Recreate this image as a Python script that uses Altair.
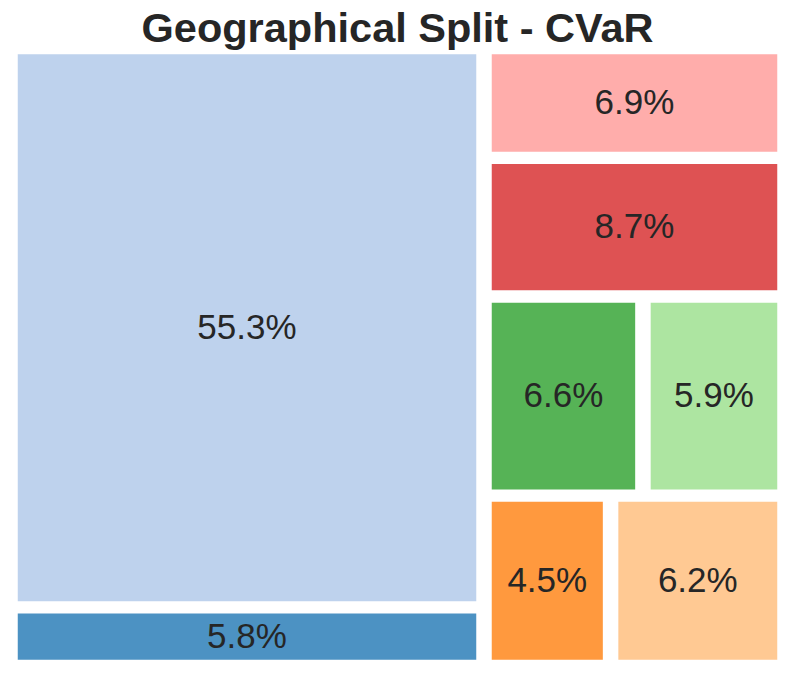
import altair as alt
import pandas as pd

# Data (in plotting order, as squarify lays them out)
values = [5.8, 55.3, 4.5, 6.2, 6.6, 5.9, 8.7, 6.9]
labels = ["5.8%", "55.3%", "4.5%", "6.2%", "6.6%", "5.9%", "8.7%", "6.9%"]
colors = ["#1f77b4", "#aec7e8", "#ff7f0e", "#ffbb78",
          "#2ca02c", "#98df8a", "#d62728", "#ff9896"]
title_text = "Geographical Split - CVaR"

NX, NY = 100.0, 100.0


def layoutrow(sizes, x, y, dx, dy):
    width = sum(sizes) / dy
    rects = []
    for s in sizes:
        rects.append({"x": x, "y": y, "dx": width, "dy": s / width})
        y += s / width
    return rects


def layoutcol(sizes, x, y, dx, dy):
    height = sum(sizes) / dx
    rects = []
    for s in sizes:
        rects.append({"x": x, "y": y, "dx": s / height, "dy": height})
        x += s / height
    return rects


def layout(sizes, x, y, dx, dy):
    return layoutrow(sizes, x, y, dx, dy) if dx >= dy else layoutcol(sizes, x, y, dx, dy)


def leftover(sizes, x, y, dx, dy):
    if dx >= dy:
        w = sum(sizes) / dy
        return x + w, y, dx - w, dy
    h = sum(sizes) / dx
    return x, y + h, dx, dy - h


def worst_ratio(sizes, x, y, dx, dy):
    return max(max(r["dx"] / r["dy"], r["dy"] / r["dx"]) for r in layout(sizes, x, y, dx, dy))


def squarify(sizes, x, y, dx, dy):
    if not sizes:
        return []
    if len(sizes) == 1:
        return layout(sizes, x, y, dx, dy)
    i = 1
    while i < len(sizes) and worst_ratio(sizes[:i], x, y, dx, dy) >= worst_ratio(sizes[:i + 1], x, y, dx, dy):
        i += 1
    cur, rem = sizes[:i], sizes[i:]
    lx, ly, ldx, ldy = leftover(cur, x, y, dx, dy)
    return layout(cur, x, y, dx, dy) + squarify(rem, lx, ly, ldx, ldy)


total = sum(values)
norm = [v * NX * NY / total for v in values]
rects = squarify(norm, 0.0, 0.0, NX, NY)
for r in rects:
    if r["dx"] > 2:
        r["x"] += 1
        r["dx"] -= 2
    if r["dy"] > 2:
        r["y"] += 1
        r["dy"] -= 2

df = pd.DataFrame({
    "label": labels,
    "color": colors,
    "x": [r["x"] for r in rects],
    "x2": [r["x"] + r["dx"] for r in rects],
    "y": [r["y"] for r in rects],
    "y2": [r["y"] + r["dy"] for r in rects],
})
df["cx"] = (df["x"] + df["x2"]) / 2
df["cy"] = (df["y"] + df["y2"]) / 2

xs = alt.Scale(domain=[0, NX], nice=False, zero=False)
ys = alt.Scale(domain=[0, NY], nice=False, zero=False)

base = alt.Chart(df)
rect = base.mark_rect(opacity=0.8).encode(
    x=alt.X("x:Q", scale=xs, axis=None),
    x2="x2:Q",
    y=alt.Y("y:Q", scale=ys, axis=None),
    y2="y2:Q",
    color=alt.Color("color:N", scale=None),
)
text = base.mark_text(fontSize=35, font="Liberation Sans", color="#262626",
                      baseline="middle", align="center").encode(
    x=alt.X("cx:Q", scale=xs, axis=None),
    y=alt.Y("cy:Q", scale=ys, axis=None),
    text="label:N",
)

chart = (rect + text).properties(
    width=775,
    height=618,
    padding={"left": 2, "top": 0, "right": 0, "bottom": 0},
    title=alt.TitleParams(title_text, font="Liberation Sans", fontSize=41.5,
                          fontWeight="bold", color="#262626", anchor="middle",
                          offset=-2),
).configure_view(stroke=None)

chart.save("out.html", embed_options={"renderer": "svg", "actions": False})
